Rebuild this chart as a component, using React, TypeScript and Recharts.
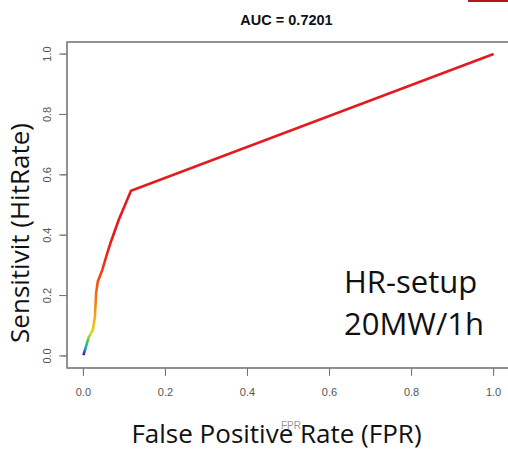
import React from 'react';
import { LineChart, Line, XAxis, YAxis, ReferenceLine } from 'recharts';

// ROC points (FPR on x, hit rate on y)
const fpr = [0, 0.005, 0.013, 0.023, 0.028, 0.031, 0.035, 0.046, 0.058, 0.066, 0.086, 0.116, 1];
const tpr = [0.003, 0.025, 0.062, 0.086, 0.13, 0.208, 0.246, 0.285, 0.34, 0.374, 0.45, 0.547, 1];
const axisTicks = [0, 0.2, 0.4, 0.6, 0.8, 1];
const axisDomain = [-0.04, 1.04];

const title = 'AUC = 0.7201';
const xLabel = 'False Positive Rate (FPR)';
const xLabelOrig = 'FPR';
const yLabel = 'Sensitivit (HitRate)';
const noteLines = ['HR-setup', '20MW/1h'];

const tickFont = { fontFamily: 'Liberation Sans, Arial, sans-serif', fontSize: 11, fill: '#555' };
const bigFont = 'Open Sans, Noto Sans, sans-serif';
const boxLine = { stroke: '#8a8a8a', strokeWidth: 1.5 };
const fmt = (v: number) => v.toFixed(1);

// plot box geometry (same numbers as the chart margins / axis sizes below)
const plot = { left: 67, top: 42, right: 510, bottom: 368 };
const toX = (v: number) => plot.left + ((v - axisDomain[0]) / (axisDomain[1] - axisDomain[0])) * (plot.right - plot.left);
const toY = (v: number) => plot.bottom - ((v - axisDomain[0]) / (axisDomain[1] - axisDomain[0])) * (plot.bottom - plot.top);

export default function App() {
  const data = fpr.map((f, i) => ({ fpr: f, tpr: tpr[i] }));

  return (
    <div style={{ position: 'absolute', left: 0, top: 0, width: 508, height: 450, overflow: 'hidden', background: '#fff' }}>
      <LineChart width={510} height={450} data={data} margin={{ top: plot.top, right: 0, bottom: 0, left: 0 }}>
        <defs>
          <linearGradient id="rocGrad" x1="0" y1="0" x2="0" y2="1">
            <stop offset="0" stopColor="#e41a1c" />
            <stop offset="0.6" stopColor="#e41a1c" />
            <stop offset="0.72" stopColor="#ee3a14" />
            <stop offset="0.82" stopColor="#f47c12" />
            <stop offset="0.9" stopColor="#f6bb14" />
            <stop offset="0.93" stopColor="#c8e020" />
            <stop offset="0.955" stopColor="#34cc44" />
            <stop offset="0.975" stopColor="#22a8d0" />
            <stop offset="1" stopColor="#3414b8" />
          </linearGradient>
        </defs>
        <XAxis
          dataKey="fpr"
          type="number"
          domain={axisDomain}
          ticks={axisTicks}
          tickFormatter={fmt}
          tick={{ ...tickFont, dy: 12 }}
          stroke="#777"
          axisLine={boxLine}
          height={450 - plot.bottom}
        />
        <YAxis
          dataKey="tpr"
          type="number"
          domain={axisDomain}
          ticks={axisTicks}
          tickFormatter={fmt}
          angle={-90}
          textAnchor="middle"
          tick={{ ...tickFont, angle: -90, textAnchor: 'middle', dx: -12 }}
          stroke="#777"
          axisLine={boxLine}
          width={plot.left}
        />
        <ReferenceLine y={axisDomain[1]} {...boxLine} />
        <Line
          type="linear"
          dataKey="tpr"
          stroke="url(#rocGrad)"
          strokeWidth={2.6}
          dot={false}
          isAnimationActive={false}
        />
      </LineChart>

      <svg width={508} height={450} style={{ position: 'absolute', left: 0, top: 0, pointerEvents: 'none' }}>
        {/* R-style frame and tick marks */}
        <rect
          x={plot.left}
          y={plot.top}
          width={plot.right - plot.left}
          height={plot.bottom - plot.top}
          fill="none"
          {...boxLine}
        />
        {axisTicks.map((t) => (
          <line key={`xt${t}`} x1={toX(t)} x2={toX(t)} y1={plot.bottom} y2={plot.bottom + 8} stroke="#777" />
        ))}
        {axisTicks.map((t) => (
          <line key={`yt${t}`} x1={plot.left - 8} x2={plot.left} y1={toY(t)} y2={toY(t)} stroke="#777" />
        ))}
        <text x={286.5} y={25} textAnchor="middle" fontFamily="Liberation Sans, Arial, sans-serif" fontWeight="bold" fontSize={14.5} fill="#111">
          {title}
        </text>
        <text x={291} y={429} textAnchor="middle" fontFamily="Liberation Sans, Arial, sans-serif" fontSize={10} fill="#999">
          {xLabelOrig}
        </text>
        <text x={276.5} y={443} textAnchor="middle" fontFamily={bigFont} fontSize={26} fill="#111">
          {xLabel}
        </text>
        <text x={-233} y={29} transform="rotate(-90)" textAnchor="middle" fontFamily={bigFont} fontSize={26} fill="#111">
          {yLabel}
        </text>
        {noteLines.map((t, i) => (
          <text key={t} x={344} y={293 + i * 41.5} fontFamily={bigFont} fontSize={31} fill="#111">
            {t}
          </text>
        ))}
      </svg>
      <div style={{ position: 'absolute', right: 0, top: 0, width: 40, height: 2, background: '#b01818' }} />
    </div>
  );
}
